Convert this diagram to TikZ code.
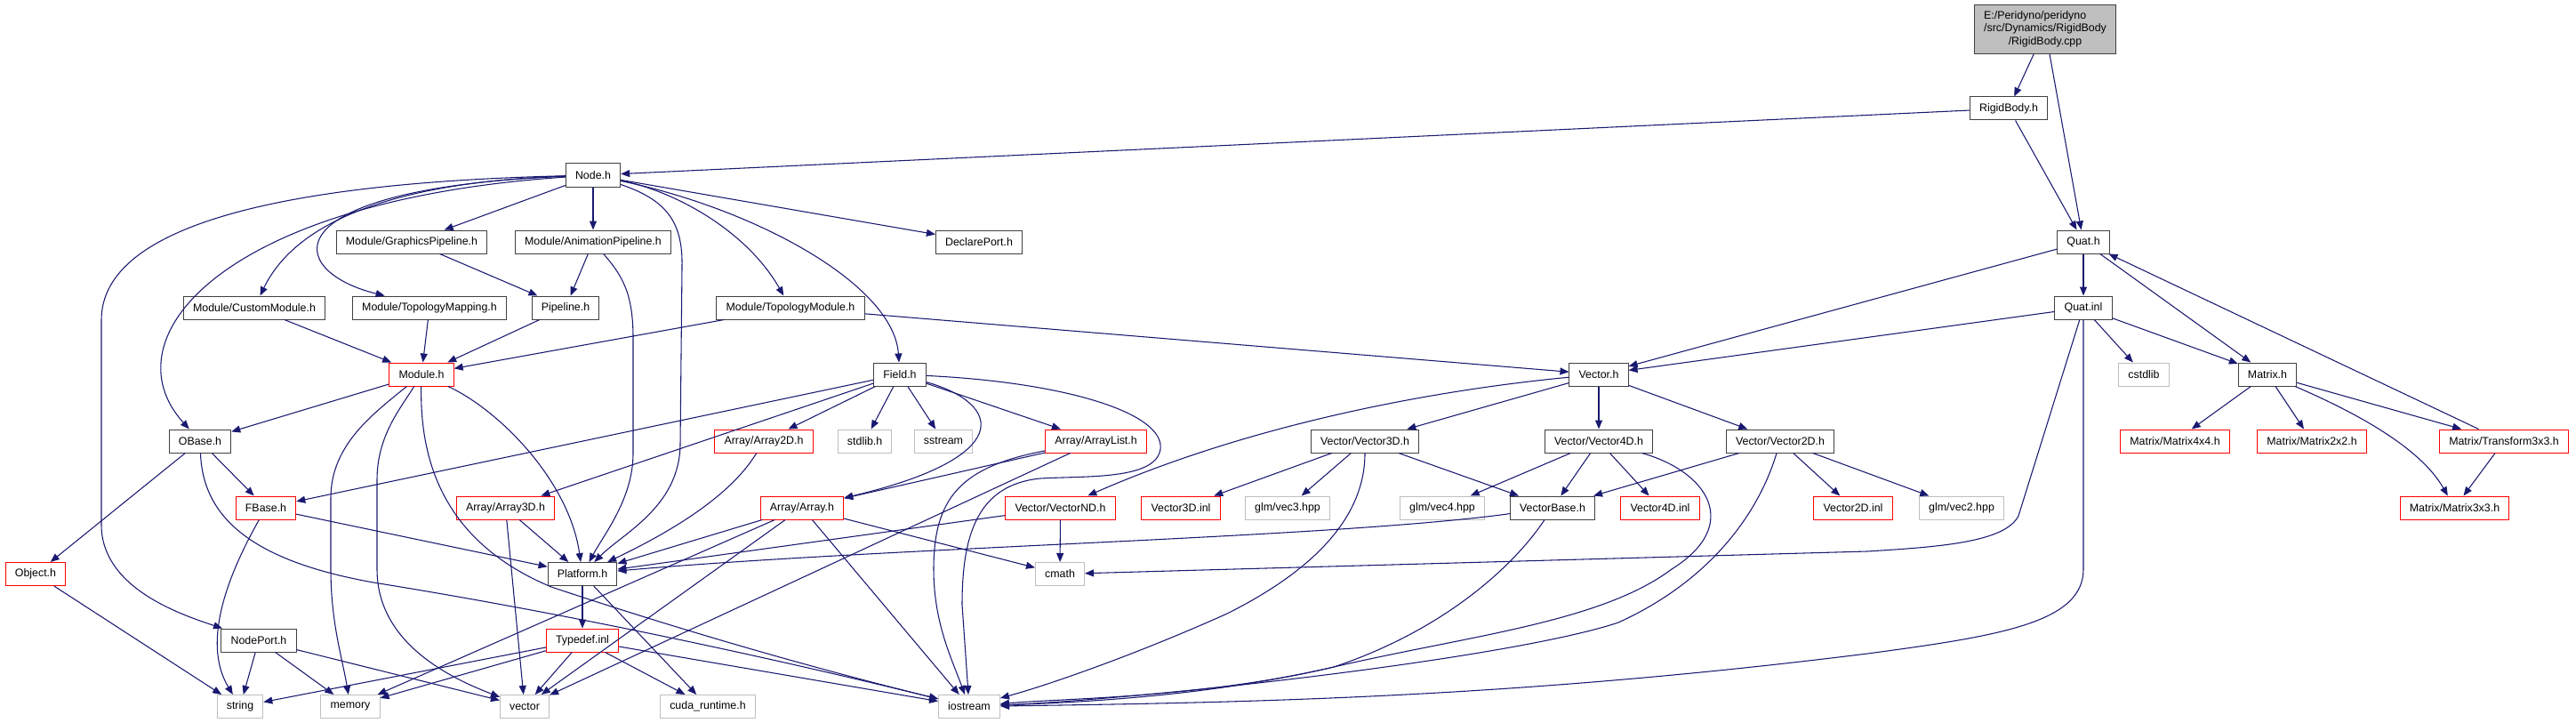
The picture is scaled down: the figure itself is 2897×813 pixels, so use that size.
\documentclass[tikz,border=0pt]{standalone}
\usepackage{fontspec}
\setmainfont{Liberation Sans}
\usepackage{tikz}
\usetikzlibrary{arrows.meta}
\definecolor{edgeblue}{HTML}{191970}
\definecolor{hdrborder}{HTML}{404040}
\definecolor{cutred}{HTML}{FF0000}
\definecolor{sysgrey}{HTML}{BFBFBF}
\newcommand{\doxfont}{\fontsize{9.3}{11}\selectfont}
\tikzset{
  % documented header = dark frame
  hdr/.style={rectangle, draw=hdrborder, fill=white, line width=0.75pt,
              minimum height=19.5pt, inner xsep=8pt, inner ysep=0pt,
              font=\doxfont},
  % header whose includes are cut off = red frame
  hdrcut/.style={hdr, draw=cutred},
  % system / external header = grey frame
  syshdr/.style={hdr, draw=sysgrey},
  % the file the graph is drawn for
  srcfile/.style={hdr, fill=sysgrey, minimum height=41pt},
  % include edge
  incl/.style={draw=edgeblue, line width=0.8pt,
               -{Triangle[length=7.5pt,width=6pt]}},
}

\begin{document}
\begin{tikzpicture}[x=0.75pt, y=-0.75pt]
  \useasboundingbox (0,0) rectangle (2897,813);

  % file + first level
  \node[srcfile] (rbcpp) at (2300,33)
    {\begin{tabular}{@{}l@{}}E:/Peridyno/peridyno\\/src/Dynamics/RigidBody\\
     \multicolumn{1}{@{}c@{}}{/RigidBody.cpp}\end{tabular}};
  \node[hdr] (rbh) at (2259,122) {RigidBody.h};
  \node[hdr] (nodeh) at (667,197) {Node.h};

  % modules
  \node[hdr] (gfxpipe)  at (463,272)  {Module/GraphicsPipeline.h};
  \node[hdr] (animpipe) at (667,272)  {Module/AnimationPipeline.h};
  \node[hdr] (declport) at (1101,272) {DeclarePort.h};
  \node[hdr] (quath)    at (2343,272) {Quat.h};
  \node[hdr] (custmod)  at (286,346)  {Module/CustomModule.h};
  \node[hdr] (topomap)  at (483,346)  {Module/TopologyMapping.h};
  \node[hdr] (pipeline) at (636,346)  {Pipeline.h};
  \node[hdr] (topomod)  at (889,346)  {Module/TopologyModule.h};
  \node[hdr] (qinl)     at (2343,346) {Quat.inl};
  \node[hdrcut] (module) at (474,421) {Module.h};
  \node[hdr] (field)    at (1012,421) {Field.h};
  \node[hdr] (vectorh)  at (1798,421) {Vector.h};
  \node[syshdr] (cstdlib) at (2411,421) {cstdlib};
  \node[hdr] (matrix)   at (2550,421) {Matrix.h};

  % row of arrays / vectors / matrices
  \node[hdr] (obase)     at (225,496)  {OBase.h};
  \node[hdrcut] (arr2d)  at (859,496)  {Array/Array2D.h};
  \node[syshdr] (stdlib) at (972.6,496) {stdlib.h};
  \node[syshdr] (sstream) at (1061,496) {sstream};
  \node[hdrcut] (arrlist) at (1232.6,496) {Array/ArrayList.h};
  \node[hdr] (v3d)       at (1535,496) {Vector/Vector3D.h};
  \node[hdr] (v4d)       at (1798,496) {Vector/Vector4D.h};
  \node[hdr] (v2d)       at (2002,496) {Vector/Vector2D.h};
  \node[hdrcut] (mat4x4) at (2446,496) {Matrix/Matrix4x4.h};
  \node[hdrcut] (mat2x2) at (2600,496) {Matrix/Matrix2x2.h};
  \node[hdrcut] (tr3x3)  at (2816,496) {Matrix/Transform3x3.h};

  \node[hdrcut] (fbase)  at (299,571)  {FBase.h};
  \node[hdrcut] (arr3d)  at (568.5,571) {Array/Array3D.h};
  \node[hdrcut] (arrayh) at (902,571)  {Array/Array.h};
  \node[hdrcut] (vecnd)  at (1192.5,571) {Vector/VectorND.h};
  \node[hdrcut] (v3dinl) at (1328,571) {Vector3D.inl};
  \node[syshdr] (vec3)   at (1448,571) {glm/vec3.hpp};
  \node[syshdr] (vec4)   at (1622,571) {glm/vec4.hpp};
  \node[hdr] (vbase)     at (1746,571) {VectorBase.h};
  \node[hdrcut] (v4dinl) at (1867,571) {Vector4D.inl};
  \node[hdrcut] (v2dinl) at (2084,571) {Vector2D.inl};
  \node[syshdr] (vec2)   at (2206,571) {glm/vec2.hpp};
  \node[hdrcut] (mat3x3) at (2760.5,571) {Matrix/Matrix3x3.h};

  \node[hdrcut] (object) at (40,645.5)  {Object.h};
  \node[hdr] (platform)  at (655,645.5) {Platform.h};
  \node[syshdr] (cmath)  at (1192,645.5) {cmath};
  \node[hdr] (nodeport)  at (291,720)   {NodePort.h};
  \node[hdrcut] (typedef) at (655,720)  {Typedef.inl};

  % system headers at the bottom
  \node[syshdr] (string)  at (270,794.5) {string};
  \node[syshdr] (memory)  at (394,794.5) {memory};
  \node[syshdr] (vector)  at (590,794.5) {vector};
  \node[syshdr] (cuda)    at (796,794.5) {cuda\_runtime.h};
  \node[syshdr] (iostream) at (1090,794.5) {iostream};

  % straight includes
  \foreach \a/\b in {rbcpp/rbh, rbcpp/quath, rbh/nodeh, rbh/quath,
      nodeh/gfxpipe, nodeh/animpipe, nodeh/declport,
      gfxpipe/pipeline, animpipe/pipeline,
      custmod/module, topomap/module, pipeline/module, topomod/module,
      topomod/vectorh, module/obase, obase/object, obase/fbase,
      fbase/platform, object/string,
      nodeport/string, nodeport/memory, nodeport/vector,
      arr3d/vector, arr3d/platform,
      field/arr3d, field/fbase, field/arr2d, field/stdlib, field/sstream,
      field/arrlist, arrlist/arrayh, arrlist/vector,
      arrayh/platform, arrayh/memory, arrayh/vector, arrayh/iostream,
      arrayh/cmath, platform/typedef, platform/cuda,
      typedef/string, typedef/memory, typedef/vector, typedef/iostream,
      typedef/cuda, vecnd/platform, vecnd/cmath,
      vectorh/v3d, vectorh/v4d, vectorh/v2d,
      v3d/v3dinl, v3d/vec3, v3d/vbase, v4d/vec4, v4d/vbase, v4d/v4dinl,
      v2d/vbase, v2d/v2dinl, v2d/vec2,
      quath/vectorh, quath/qinl, quath/matrix,
      qinl/vectorh, qinl/cstdlib, qinl/matrix,
      matrix/mat4x4, matrix/mat2x2, matrix/tr3x3,
      tr3x3/quath, tr3x3/mat3x3}
    \draw[incl] (\a) -- (\b);

  % curved includes
  \draw[incl] (nodeh) .. controls (430,205) and (330,255) .. (custmod);
  \draw[incl] (nodeh) .. controls (300,212) and (320,305) .. (topomap.165);
  \draw[incl] (nodeh) .. controls (250,225) and (120,380) .. (obase);
  \draw[incl] (nodeh) .. controls (330,205) and (114,250) .. (114,360)
    -- (114,590) .. controls (114,660) and (200,690) .. (nodeport);
  \draw[incl] (nodeh) .. controls (750,225) and (768,250) .. (767,300)
    -- (765,500) .. controls (764,570) and (700,600) .. (platform);
  \draw[incl] (animpipe) .. controls (700,310) and (712,330) .. (712,380)
    -- (712,510) .. controls (712,560) and (680,600) .. (platform);
  \draw[incl] (nodeh) .. controls (760,215) and (840,260) .. (topomod);
  \draw[incl] (nodeh) .. controls (850,235) and (1005,320) .. (field);
  \draw[incl] (module) .. controls (420,465) and (372,500) .. (372,560)
    -- (372,640) .. controls (372,700) and (385,740) .. (memory);
  \draw[incl] (module) .. controls (450,460) and (424,490) .. (424,540)
    -- (424,640) .. controls (424,720) and (500,760) .. (vector);
  \draw[incl] (module) .. controls (472,520) and (500,610) .. (620,660)
    .. controls (800,720) and (950,760) .. (iostream);
  \draw[incl] (module) .. controls (560,460) and (640,540) .. (platform);
  \draw[incl] (obase) .. controls (228,580) and (280,630) .. (420,655)
    .. controls (700,700) and (950,760) .. (iostream);
  \draw[incl] (fbase) .. controls (260,640) and (225,720) .. (string);
  \draw[incl] (field) .. controls (1130,455) and (1140,515) .. (arrayh);
  \draw[incl] (field) .. controls (1200,430) and (1310,465) .. (1305,505)
    .. controls (1300,540) and (1220,535) .. (1170,538)
    .. controls (1100,545) and (1082,600) .. (1082,680) -- (iostream);
  \draw[incl] (arrlist) .. controls (1080,525) and (1050,560) .. (1050,640)
    .. controls (1050,700) and (1070,740) .. (iostream);
  \draw[incl] (arr2d) .. controls (820,560) and (750,600) .. (platform);
  \draw[incl] (vectorh) .. controls (1600,440) and (1400,480) .. (vecnd);
  \draw[incl] (v3d) .. controls (1535,580) and (1480,640) .. (1380,690)
    .. controls (1280,735) and (1180,770) .. (iostream);
  \draw[incl] (v4d) .. controls (1920,530) and (1960,590) .. (1880,640)
    .. controls (1800,700) and (1650,715) .. (1500,750)
    .. controls (1350,785) and (1200,790) .. (iostream);
  \draw[incl] (v2d) .. controls (1980,570) and (1930,650) .. (1820,700)
    .. controls (1700,740) and (1300,785) .. (iostream);
  \draw[incl] (vbase) .. controls (1500,605) and (1000,615) .. (platform);
  \draw[incl] (vbase) .. controls (1700,640) and (1620,710) .. (1500,750)
    .. controls (1350,785) and (1200,785) .. (iostream);
  \draw[incl] (qinl) -- (2270,580) .. controls (2255,610) and (2180,615)
    .. (2100,620) -- (cmath);
  \draw[incl] (qinl) -- (2343,640) .. controls (2343,700) and (2250,715)
    .. (2100,735) .. controls (1700,785) and (1400,790) .. (iostream);
  \draw[incl] (matrix) .. controls (2640,460) and (2720,500) .. (mat3x3);
\end{tikzpicture}
\end{document}
